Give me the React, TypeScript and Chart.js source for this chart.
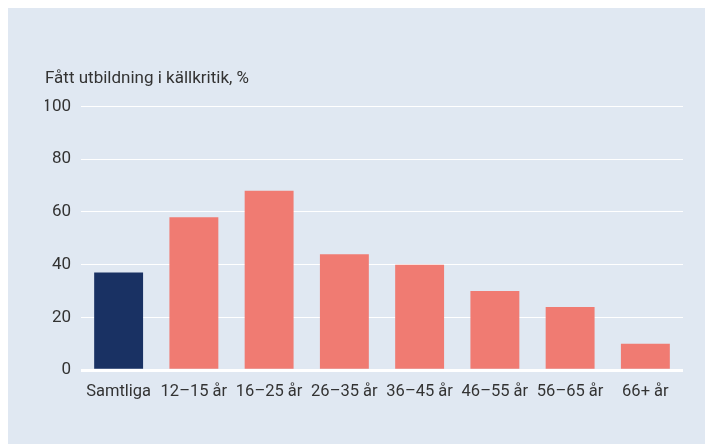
import React, { useEffect, useRef } from "react";
import { Chart, registerables } from "chart.js";

Chart.register(...registerables);

const categories = ["Samtliga", "12–15 år", "16–25 år", "26–35 år", "36–45 år", "46–55 år", "56–65 år", "66+ år"];
const values = [37, 58, 68, 44, 40, 30, 24, 10];
const barColors = ["#193163", "#f07b72", "#f07b72", "#f07b72", "#f07b72", "#f07b72", "#f07b72", "#f07b72"];
const titleText = "Fått utbildning i källkritik, %";

export default function App() {
  const ref = useRef<HTMLCanvasElement | null>(null);
  useEffect(() => {
    if (!ref.current) return;
    const font = "Roboto, 'Noto Sans', sans-serif";
    const chart = new Chart(ref.current, {
      type: "bar",
      data: {
        labels: categories,
        datasets: [
          {
            data: values,
            backgroundColor: barColors,
            borderWidth: 0,
            barPercentage: 0.65,
            categoryPercentage: 1,
          },
        ],
      },
      options: {
        animation: false,
        responsive: false,
        maintainAspectRatio: false,
        layout: { padding: { left: 37, right: 30, top: 61, bottom: 38 } },
        plugins: {
          legend: { display: false },
          tooltip: { enabled: false },
          title: {
            display: true,
            text: titleText,
            align: "start",
            color: "#333333",
            font: { family: font, size: 17, weight: "normal" },
            padding: { top: 0, bottom: 17 },
          },
        },
        scales: {
          x: {
            grid: { display: false },
            border: { display: false },
            ticks: {
              color: "#333333",
              font: { family: font, size: 16.5 },
              padding: 4,
              maxRotation: 0,
              autoSkip: false,
            },
          },
          y: {
            min: 0,
            max: 100,
            afterFit: (scale: any) => {
              scale.width = 36;
            },
            ticks: {
              stepSize: 20,
              color: "#333333",
              font: { family: font, size: 17 },
              padding: 10,
            },
            border: { display: false },
            grid: {
              color: "#ffffff",
              drawTicks: false,
              lineWidth: (ctx: any) => (ctx.tick && ctx.tick.value === 0 ? 3 : 1),
            },
          },
        },
      },
    });
    return () => chart.destroy();
  }, []);
  return (
    <div style={{ width: 705, height: 436, background: "#e0e8f2" }}>
      <canvas ref={ref} width={705} height={436} style={{ display: "block" }} />
    </div>
  );
}
